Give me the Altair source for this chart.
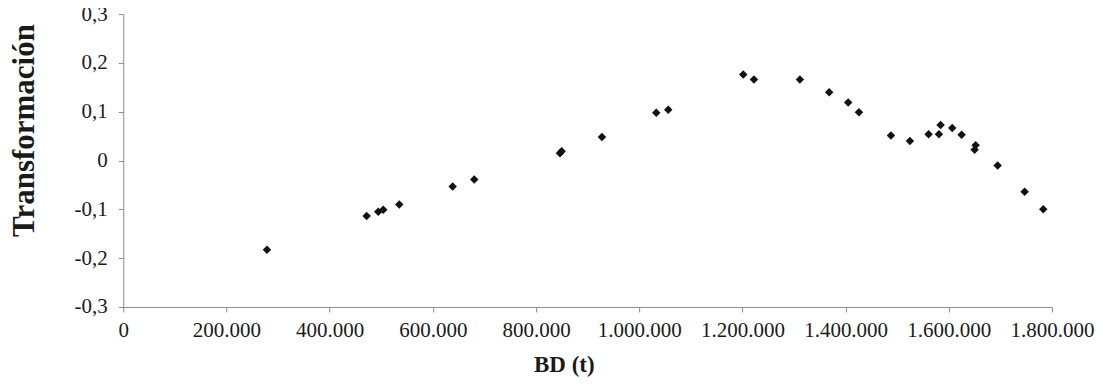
import altair as alt
import pandas as pd

bd = [278500, 471700, 494200, 503900, 534900, 638400, 680200, 846300, 849600,
      927700, 1033000, 1056200, 1201600, 1222300, 1311400, 1368200, 1405000,
      1425800, 1487800, 1524600, 1560800, 1580800, 1584000, 1606600, 1624800,
      1652000, 1650000, 1694600, 1746900, 1783000]
transf = [-0.183, -0.1136, -0.105, -0.101, -0.090, -0.0534, -0.039, 0.015, 0.019,
          0.048, 0.098, 0.104, 0.176, 0.166, 0.166, 0.140, 0.119,
          0.099, 0.0513, 0.040, 0.054, 0.054, 0.0725, 0.0664, 0.0528,
          0.0315, 0.022, -0.0103, -0.064, -0.100]
x_ticks = [0, 200000, 400000, 600000, 800000, 1000000, 1200000, 1400000, 1600000, 1800000]
y_ticks = [-0.3, -0.2, -0.1, 0, 0.1, 0.2, 0.3]

df = pd.DataFrame({"BD": bd, "T": transf})

FONT = "Liberation Serif"
AXC = "#8c8c8c"
TXT = "#1a1a1a"

chart = alt.Chart(df).mark_point(
    shape="diamond", filled=True, size=72, color="#111111", opacity=1
).encode(
    x=alt.X("BD:Q",
            scale=alt.Scale(domain=[0, 1800000], nice=False, zero=False),
            axis=alt.Axis(values=x_ticks, title="BD (t)", grid=False,
                          labelExpr="replace(format(datum.value, ','), /,/g, '.')",
                          labelPadding=8, labelFlush=False, labelOverlap=False,
                          tickSize=5,
                          titleFontSize=23, titleX=440.7, titleY=65,
                          titleAlign="center", titleBaseline="alphabetic")),
    y=alt.Y("T:Q",
            scale=alt.Scale(domain=[-0.3, 0.3], nice=False, zero=False),
            axis=alt.Axis(values=y_ticks, title="Transformación", grid=False,
                          labelExpr="datum.value == 0 ? '0' : (datum.value < 0 ? '-' : '') + '0,' + format(abs(datum.value) * 10, '.0f')",
                          labelPadding=11, labelFlush=False, labelOverlap=False,
                          tickSize=5,
                          titleFontSize=31, titleX=-89.8, titleY=116,
                          titleAngle=270, titleAlign="center",
                          titleBaseline="alphabetic")),
).properties(
    width=929, height=293,
    autosize=alt.AutoSizeParams(type="none"),
    padding={"left": 115.3, "top": 6, "right": 43, "bottom": 70},
).configure(
    background="white", font=FONT
).configure_view(stroke=None).configure_axis(
    labelFont=FONT, labelFontSize=21, labelColor=TXT,
    titleFont=FONT, titleFontWeight="bold", titleColor=TXT,
    tickColor=AXC, domainColor=AXC,
)

chart.save("out.html", embed_options={"renderer": "svg", "actions": False})
